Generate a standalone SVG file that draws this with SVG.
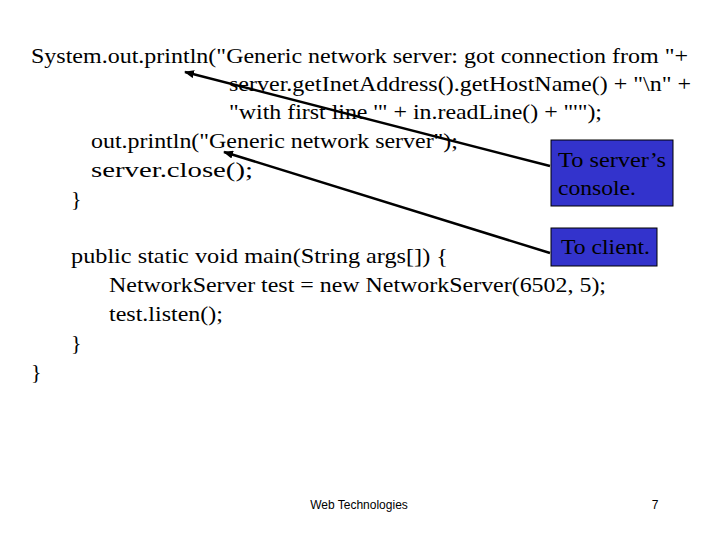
<svg xmlns="http://www.w3.org/2000/svg" width="720" height="540" viewBox="0 0 720 540">
<style>
.c{font-family:"Liberation Serif",serif;font-size:22px;fill:#000}
.b{fill:#3333cc;stroke:#000;stroke-width:1}
.f{font-family:"Liberation Sans",sans-serif;font-size:12px}
</style>
<defs><marker id="a" markerWidth="10" markerHeight="8" refX="9" refY="4" orient="auto" markerUnits="userSpaceOnUse"><path d="M0,0L10,4L0,8z"/></marker></defs>
<rect width="720" height="540" fill="#fff"/>
<g id="code">
<text class="c" x="31" y="63" textLength="657" lengthAdjust="spacingAndGlyphs">System.out.println("Generic network server: got connection from "+</text>
<text class="c" x="229" y="91" textLength="462" lengthAdjust="spacingAndGlyphs">server.getInetAddress().getHostName() + "\n" +</text>
<text class="c" x="229" y="119" textLength="373" lengthAdjust="spacingAndGlyphs">"with first line '" + in.readLine() + "'");</text>
<text class="c" x="91" y="148" textLength="367" lengthAdjust="spacingAndGlyphs">out.println("Generic network server");</text>
<text class="c" x="91" y="177" textLength="162" lengthAdjust="spacingAndGlyphs">server.close();</text>
<text class="c" x="71" y="206">}</text>
<text class="c" x="71" y="263" textLength="377" lengthAdjust="spacingAndGlyphs">public static void main(String args[]) {</text>
<text class="c" x="109" y="292" textLength="497" lengthAdjust="spacingAndGlyphs">NetworkServer test = new NetworkServer(6502, 5);</text>
<text class="c" x="109" y="321" textLength="114" lengthAdjust="spacingAndGlyphs">test.listen();</text>
<text class="c" x="71" y="350">}</text>
<text class="c" x="31" y="379">}</text>
</g>
<g id="n1"><rect class="b" x="551" y="140" width="122" height="66"/>
<text class="c" x="558" y="167" textLength="108" lengthAdjust="spacingAndGlyphs">To server’s</text><text class="c" x="558" y="195" textLength="78" lengthAdjust="spacingAndGlyphs">console.</text></g>
<g id="n2"><rect class="b" x="551" y="228" width="106" height="38"/>
<text class="c" x="561" y="254" textLength="89" lengthAdjust="spacingAndGlyphs">To client.</text></g>
<g id="edges" stroke="#000" stroke-width="2.5">
<line x1="550" y1="166" x2="185" y2="72" marker-end="url(#a)"/>
<line x1="550" y1="253" x2="224" y2="152" marker-end="url(#a)"/>
</g>
<text class="f" x="359" y="509" text-anchor="middle">Web Technologies</text>
<text class="f" x="655" y="509" text-anchor="middle">7</text>
</svg>
